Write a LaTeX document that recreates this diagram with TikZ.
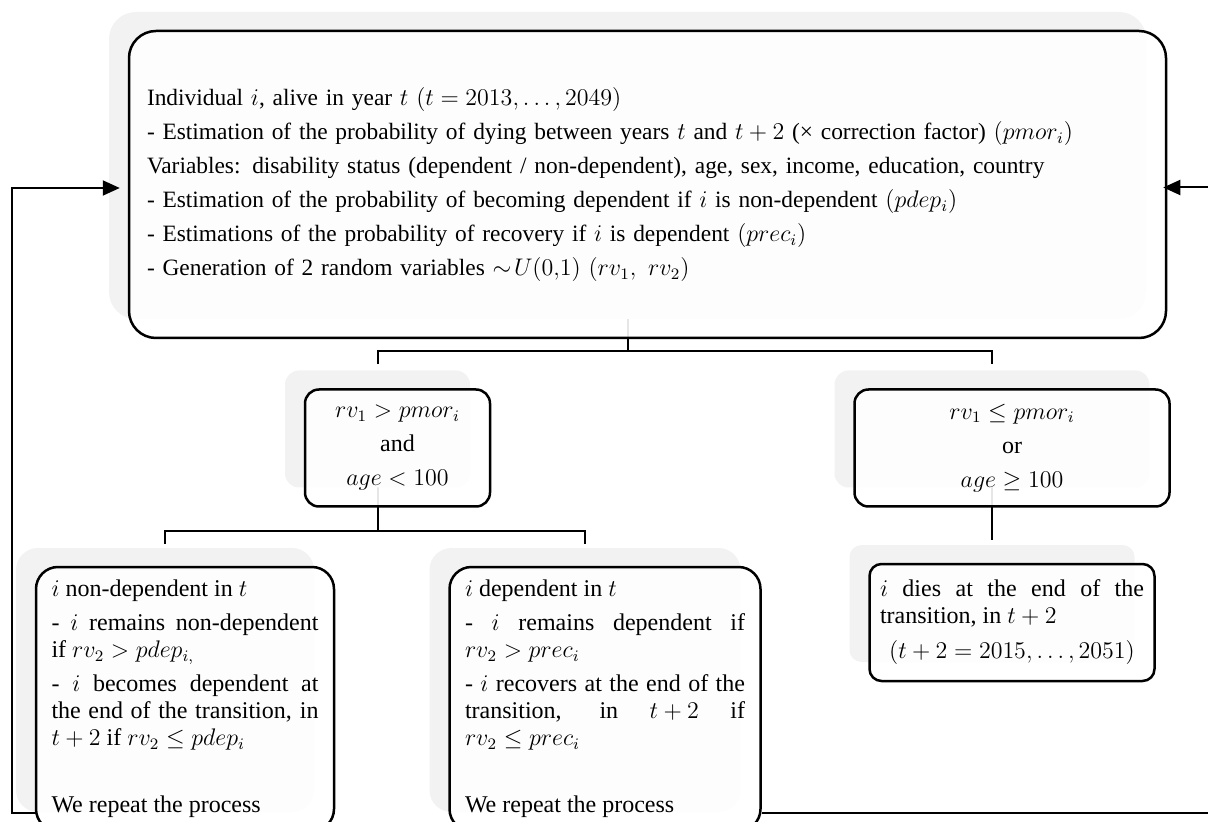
\documentclass[tikz,border=0pt]{standalone}
\usepackage{amsmath,amssymb}
\usepackage{fontspec}
\setmainfont{Liberation Serif}
\usetikzlibrary{positioning,calc,shadows,backgrounds,arrows.meta}
\definecolor{shadowgray}{HTML}{F2F2F2}

\begin{document}
\begin{tikzpicture}[x=0.5pt, y=-0.5pt,
    sim box/.style={rectangle, draw, line width=1.25pt, fill=white, fill opacity=0.9, text opacity=1,
        general shadow={shadow xshift=-10pt, shadow yshift=9.5pt, fill=shadowgray, fill opacity=1}},
    cond box/.style={sim box, rounded corners=7pt, minimum height=58.5pt, align=center,
        font=\fontsize{12}{17}\selectfont},
    state box/.style={sim box, rounded corners=11pt, minimum height=132pt, inner xsep=7.75pt,
        align=justify, font=\fontsize{12}{13.5}\selectfont},
    sim line/.style={line width=1pt},
    sim arrow/.style={line width=1pt, -{Triangle[length=8.5pt,width=7.5pt]}}]

    \useasboundingbox (0,0) rectangle (1208,822);

    % individual alive in year t
    \node [sim box, rounded corners=13.5pt, text width=500.5pt, inner xsep=9pt, align=left,
           minimum height=153.5pt, font=\fontsize{11.7}{17}\selectfont] (top) at (647.5,184.5)
        {Individual $i$, alive in year $t$ $(t = 2013, \ldots, 2049)$\\
         - Estimation of the probability of dying between years $t$ and $t+2$ (× correction factor) $(pmor_i)$\\
         Variables: disability status (dependent / non-dependent), age, sex, income, education, country\\
         - Estimation of the probability of becoming dependent if $i$ is non-dependent $(pdep_i)$\\
         - Estimations of the probability of recovery if $i$ is dependent $(prec_i)$\\
         - Generation of 2 random variables $\sim\! U(0{,}1)$ $(rv_1,\ rv_2)$};

    % survival test
    \node [cond box, minimum width=92.5pt, below=24.5pt of top, xshift=-125pt] (alive)
        {$rv_1 > pmor_i$\\ and\\ $age < 100$};
    \node [cond box, minimum width=157.5pt, right=181pt of alive] (dead)
        {$rv_1 \leq pmor_i$\\ or\\ $age \geq 100$};

    % outcomes
    \node [state box, text width=133.5pt, below=29pt of alive, xshift=-106.25pt] (nondep)
        {\setlength{\parindent}{0pt}\setlength{\parskip}{3.5pt}%
         $i$ non-dependent in $t$\par
         - $i$ remains non-dependent\linebreak if $rv_2 > pdep_{i,}$\par
         - $i$ becomes dependent at\linebreak the end of the transition, in\linebreak ${t+2}$ if $rv_2 \leq pdep_i$\par
         \vspace{16.5pt}We repeat the process};
    \node [state box, text width=140pt, right=56.5pt of nondep] (dep)
        {\setlength{\parindent}{0pt}\setlength{\parskip}{3.5pt}%
         $i$ dependent in $t$\par
         - $i$ remains dependent if\linebreak $rv_2 > prec_i$\par
         - $i$ recovers at the end of the\linebreak transition, in ${t+2}$ if\linebreak $rv_2 \leq prec_i$\par
         \vspace{16.5pt}We repeat the process};
    \node [sim box, rounded corners=6pt, text width=132pt, inner xsep=5.25pt, minimum height=58.5pt,
           align=justify, font=\fontsize{12}{13.5}\selectfont, below=27.5pt of dead] (die)
        {\setlength{\parindent}{0pt}%
         $i$ dies at the end of the\linebreak transition, in ${t+2}$\par
         \vspace{4pt}{\centering $(t+2 = 2015, \ldots, 2051)$\par}};

    \coordinate (split1) at ([xshift=-10pt,yshift=-6pt]top.south);
    \coordinate (stubA) at ([xshift=-10pt,yshift=12pt]alive.north);
    \coordinate (stubD) at ([xshift=-10pt,yshift=12pt]dead.north);
    \coordinate (split2) at ([xshift=-10pt,yshift=-11.5pt]alive.south);
    \coordinate (stubN) at ([xshift=-10pt,yshift=11pt]nondep.north);
    \coordinate (stubP) at ([xshift=-10pt,yshift=11pt]dep.north);
    \coordinate (stubE) at ([xshift=-10pt,yshift=11.5pt]die.north);
    \coordinate (rimL) at ([xshift=-58pt,yshift=-1.75pt]top.west);
    \coordinate (rimR) at ([xshift=24.5pt,yshift=-1.5pt]top.east);

    % branches (behind the boxes)
    \begin{scope}[on background layer]
        \draw [sim line] ([xshift=-10pt,yshift=12.5pt]top.south) -- (split1);
        \draw [sim line] (stubA) |- (split1) -| (stubD);
        \draw [sim line] ([xshift=-10pt,yshift=11pt]alive.south) -- (split2);
        \draw [sim line] (stubN) |- (split2) -| (stubP);
        \draw [sim line] ([xshift=-10pt,yshift=11pt]dead.south) -- (stubE);
    \end{scope}

    % next transition
    \draw [sim arrow, shorten >=4pt] ([yshift=9.5pt]nondep.south west) -| (rimL) -- ([yshift=-1.75pt]top.west);
    \draw [sim arrow, shorten >=-2pt] ([yshift=9.5pt]dep.south east) -| (rimR) -- ([yshift=-1.5pt]top.east);

\end{tikzpicture}
\end{document}
